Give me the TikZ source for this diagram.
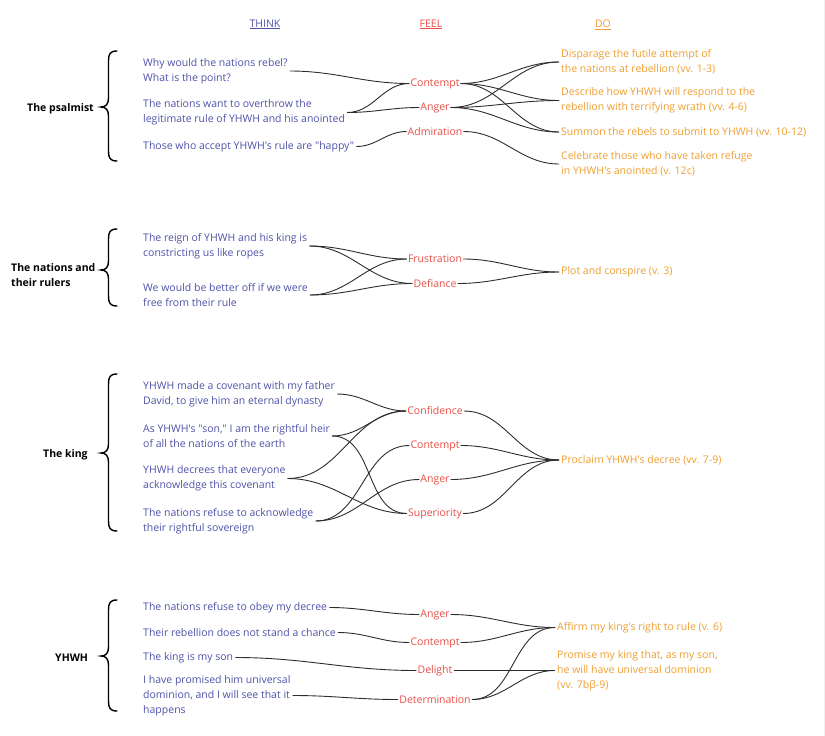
\documentclass[tikz,border=0pt]{standalone}
\usepackage{fontspec}
\setmainfont{Open Sans}[Ligatures=TeXOff]
\definecolor{thinkc}{RGB}{78,82,168}
\definecolor{feelc}{RGB}{232,78,70}
\definecolor{doc}{RGB}{238,158,48}
\definecolor{linec}{RGB}{45,45,45}
\tikzset{
  base/.style={font=\fontsize{10.5}{15}\selectfont, inner ysep=1pt, yshift=-1.5pt},
  thinkbox/.style={base, text=thinkc, anchor=west, align=left, inner xsep=2pt},
  feelbox/.style={base, text=feelc, anchor=center, inner xsep=1pt},
  dobox/.style={base, text=doc, anchor=west, align=left, inner xsep=2pt},
  labbox/.style={font=\fontsize{10.5}{15}\selectfont\bfseries, anchor=west, align=left, inner sep=0pt, yshift=-1.5pt},
  headbox/.style={font=\fontsize{10.5}{15}\selectfont, inner sep=0pt, yshift=-1.5pt},
  conn/.style={draw=linec, line width=0.9pt, out=0, in=180},
  bracestyle/.style={draw=black, line width=1.4pt, line cap=round}
}
\newcommand\sectbrace[3]{%
  \draw[bracestyle] (117,#1) .. controls (110,#1) and (108.5,#1+3) .. (108.5,#1+10)
    -- (108.5,#2-9) .. controls (108.5,#2-3) and (106,#2) .. (101,#2)
    .. controls (106,#2) and (108.5,#2+3) .. (108.5,#2+9)
    -- (108.5,#3-10) .. controls (108.5,#3-3) and (110,#3) .. (117,#3);}
\begin{document}
\begin{tikzpicture}[x=1pt,y=-1pt]
\useasboundingbox (0,0) rectangle (825,736);
\draw[gray!12, line width=1pt] (824,0) -- (824,736);

% headers
\node[headbox, text=thinkc] (hthink) at (265,23) {\underline{THINK}};
\node[headbox, text=feelc] (hfeel) at (431,23) {\underline{FEEL}};
\node[headbox, text=doc] (hdo) at (603,23) {\underline{DO}};

% ---------- The psalmist ----------
\node[labbox] (psal) at (27,107) {The psalmist};
\sectbrace{51}{107}{161}
\node[thinkbox] (pt1) at (141,69.5) {Why would the nations rebel?\\What is the point?};
\node[thinkbox] (pt2) at (141,111) {The nations want to overthrow the\\legitimate rule of YHWH and his anointed};
\node[thinkbox] (pt3) at (141,145) {Those who accept YHWH's rule are "happy"};
\node[feelbox] (pf1) at (435,82) {Contempt};
\node[feelbox] (pf2) at (435,106) {Anger};
\node[feelbox] (pf3) at (435,130) {Admiration};
\node[dobox] (pd1) at (559,60.5) {Disparage the futile attempt of\\the nations at rebellion (vv. 1-3)};
\node[dobox] (pd2) at (559,99) {Describe how YHWH will respond to the\\rebellion with terrifying wrath (vv. 4-6)};
\node[dobox] (pd3) at (559,130.5) {Summon the rebels to submit to YHWH (vv. 10-12)};
\node[dobox] (pd4) at (559,162.5) {Celebrate those who have taken refuge\\in YHWH's anointed (v. 12c)};
\draw[conn] (pt1.east) to (pf1.west);
\draw[conn] (pt2.east) to (pf1.west);
\draw[conn] (pt2.east) to (pf2.west);
\draw[conn] (pt3.east) to (pf3.west);
\foreach \d in {pd1,pd2,pd3} {
  \draw[conn] (pf1.east) to (\d.west);
  \draw[conn] (pf2.east) to (\d.west);
}
\draw[conn] (pf3.east) to (pd4.west);

% ---------- The nations ----------
\node[labbox] (nat) at (11,274) {The nations and\\their rulers};
\sectbrace{229}{270}{306}
\node[thinkbox] (nt1) at (141,244.5) {The reign of YHWH and his king is\\constricting us like ropes};
\node[thinkbox] (nt2) at (141,293.5) {We would be better off if we were\\free from their rule};
\node[feelbox] (nf1) at (435,257.5) {Frustration};
\node[feelbox] (nf2) at (435,282) {Defiance};
\node[dobox] (nd) at (559,270.5) {Plot and conspire (v. 3)};
\draw[conn] (nt1.east) to (nf1.west);
\draw[conn] (nt1.east) to (nf2.west);
\draw[conn] (nt2.east) to (nf1.west);
\draw[conn] (nt2.east) to (nf2.west);
\draw[conn] (nf1.east) to (nd.west);
\draw[conn] (nf2.east) to (nd.west);

% ---------- The king ----------
\node[labbox] (king) at (43,453) {The king};
\sectbrace{374}{453}{531}
\node[thinkbox] (kt1) at (141,392.5) {YHWH made a covenant with my father\\David, to give him an eternal dynasty};
\node[thinkbox] (kt2) at (141,434.5) {As YHWH's "son," I am the rightful heir\\of all the nations of the earth};
\node[thinkbox] (kt3) at (141,477) {YHWH decrees that everyone\\acknowledge this covenant};
\node[thinkbox] (kt4) at (141,519.5) {The nations refuse to acknowledge\\their rightful sovereign};
\node[feelbox] (kf1) at (435,409.5) {Confidence};
\node[feelbox] (kf2) at (435,444) {Contempt};
\node[feelbox] (kf3) at (435,478) {Anger};
\node[feelbox] (kf4) at (435,512) {Superiority};
\node[dobox] (kd) at (559,458.5) {Proclaim YHWH's decree (vv. 7-9)};
\draw[conn] (kt1.east) to (kf1.west);
\draw[conn] (kt2.east) to (kf1.west);
\draw[conn] (kt2.east) to (kf4.west);
\draw[conn] (kt3.east) to (kf1.west);
\draw[conn] (kt3.east) to (kf4.west);
\draw[conn] (kt4.east) to (kf2.west);
\draw[conn] (kt4.east) to (kf3.west);
\foreach \f in {kf1,kf2,kf3,kf4} {
  \draw[conn] (\f.east) to (kd.west);
}

% ---------- YHWH ----------
\node[labbox] (yhwh) at (55,656) {YHWH};
\sectbrace{600}{656}{711}
\node[thinkbox] (yt1) at (141,606) {The nations refuse to obey my decree};
\node[thinkbox] (yt2) at (141,631) {Their rebellion does not stand a chance};
\node[thinkbox] (yt3) at (141,656) {The king is my son};
\node[thinkbox] (yt4) at (141,694) {I have promised him universal\\dominion, and I will see that it\\happens};
\node[feelbox] (yf1) at (435,613) {Anger};
\node[feelbox] (yf2) at (435,641) {Contempt};
\node[feelbox] (yf3) at (435,669) {Delight};
\node[feelbox] (yf4) at (435,698) {Determination};
\node[dobox] (yd1) at (555,626) {Affirm my king's right to rule (v. 6)};
\node[dobox] (yd2) at (555,669) {Promise my king that, as my son,\\he will have universal dominion\\(vv. 7bβ-9)};
\draw[conn] (yt1.east) to (yf1.west);
\draw[conn] (yt2.east) to (yf2.west);
\draw[conn] (yt3.east) to (yf3.west);
\draw[conn] (yt4.east) to (yf4.west);
\draw[conn] (yf1.east) to (yd1.west);
\draw[conn] (yf2.east) to (yd1.west);
\draw[conn] (yf3.east) to (yd2.west);
\draw[conn] (yf4.east) to (yd1.west);
\draw[conn] (yf4.east) to (yd2.west);
\end{tikzpicture}
\end{document}
